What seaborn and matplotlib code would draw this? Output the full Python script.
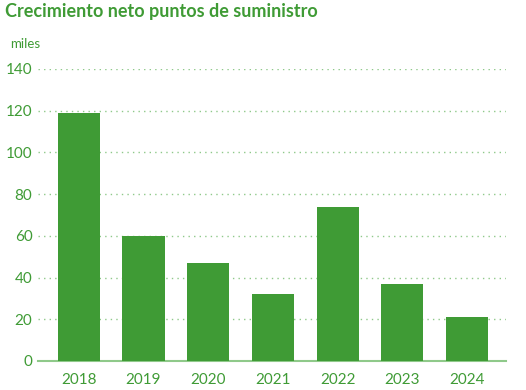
import matplotlib.pyplot as plt
import pandas as pd
import seaborn as sns

# Data (thousands of supply points)
years = ['2018', '2019', '2020', '2021', '2022', '2023', '2024']
growth = [119, 60, 47, 32, 74, 37, 21]
y_ticks = [0, 20, 40, 60, 80, 100, 120, 140]

green = '#3f9b35'
light_green = '#8fc98a'

sns.set_style('white')
plt.rcParams['font.family'] = ['Lato', 'DejaVu Sans']

df = pd.DataFrame({'year': years, 'value': growth})

fig = plt.figure(figsize=(5.26, 3.9), dpi=100)
ax = fig.add_axes([38 / 526, 29 / 390, 468 / 526, 292 / 390])

sns.barplot(data=df, x='year', y='value', color=green, width=0.65,
            saturation=1, edgecolor='none', ax=ax, zorder=3)

ax.set_ylim(0, 140)
ax.set_xlim(-0.63, 6.6)
ax.set_yticks(y_ticks)
ax.yaxis.grid(True, linestyle=(0, (1, 3)), color=light_green, linewidth=1)
ax.set_axisbelow(True)

for s in ['top', 'right', 'left']:
    ax.spines[s].set_visible(False)
ax.spines['bottom'].set_color(light_green)
ax.spines['bottom'].set_linewidth(1.5)

ax.tick_params(axis='y', length=0, labelsize=11, labelcolor=green, pad=4)
ax.tick_params(axis='x', length=6, color=light_green, width=1,
               labelsize=11, labelcolor=green, pad=3)
ax.set_xlabel('')
ax.set_ylabel('')

fig.text(5 / 526, 1 - 12 / 390, 'Crecimiento neto puntos de suministro',
         fontsize=13, fontweight='bold', color=green, va='center')
fig.text(10 / 526, 1 - 44 / 390, 'miles', fontsize=9.5, color=green, va='center')

fig.savefig('out.png', dpi=100)
